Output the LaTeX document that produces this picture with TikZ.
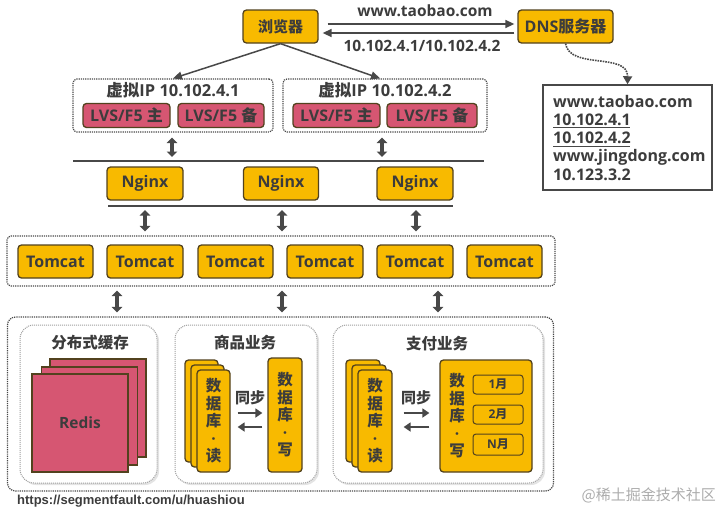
\documentclass[tikz,border=0pt]{standalone}
\usepackage{fontspec}
\setmainfont{Open Sans}
\newfontfamily\cjk{Noto Sans CJK SC}
\newfontfamily\arialf{Liberation Sans}
\newcommand\zh[1]{{\cjk #1}}
\usetikzlibrary{arrows.meta,calc,shadows}
\definecolor{ye}{RGB}{248,186,0}
\definecolor{bd}{RGB}{82,66,30}
\definecolor{pk}{RGB}{214,86,114}
\definecolor{tx}{RGB}{60,60,60}
\definecolor{ar}{RGB}{72,72,72}
\begin{document}
\begin{tikzpicture}[x=1pt,y=-1pt,
  font=\bfseries\fontsize{16}{18}\selectfont, text=tx,
  ybox/.style={draw=bd, fill=ye, line width=1.3pt, rounded corners=3.5pt, inner sep=0pt, text=tx},
  pbox/.style={draw=bd, fill=pk, line width=1.3pt, rounded corners=3.5pt, inner sep=0pt, text=tx, font=\bfseries\fontsize{16}{18}\selectfont},
  rbox/.style={draw=bd, fill=pk, line width=1.2pt, inner sep=0pt, minimum width=96pt, minimum height=98pt, text=tx},
  dotbox/.style={draw=ar, densely dotted, line width=1.2pt, inner sep=0pt, rounded corners=4pt},
  subbox/.style={draw=gray!75, densely dotted, line width=1pt, fill=white, rounded corners=14pt, inner sep=0pt,
    drop shadow={opacity=0.22, shadow xshift=2pt, shadow yshift=-2pt}},
  dbl/.style={draw=ar, line width=3.6pt, {Triangle[length=5.5pt,width=10.5pt]}-{Triangle[length=5.5pt,width=10.5pt]}},
  thinarr/.style={draw=ar, line width=1.5pt, -{Triangle[length=9pt,width=8pt]}},
  syncarr/.style={draw=ar, line width=2.6pt, -{Triangle[length=7pt,width=9pt]}},
  barline/.style={draw=ar, line width=1.6pt},
  vtext/.style={align=center, font=\bfseries\fontsize{15.5}{17.5}\selectfont},
  mbox/.style={draw=bd, fill=ye, line width=1pt, rounded corners=3pt, inner sep=0pt, minimum width=50pt, font=\bfseries\fontsize{12}{13}\selectfont},
  ltxt/.style={anchor=west, inner sep=0pt, font=\bfseries\fontsize{16}{18}\selectfont},
]
\useasboundingbox (0,0) rectangle (720,512);

% top
\node[ybox, minimum width=75pt, minimum height=33pt, font=\bfseries\fontsize{15}{17}\selectfont] (browser) at (280.5,26.5) {\zh{浏览器}};
\node[ybox, minimum width=95pt, minimum height=33pt] (dns) at (565.5,26.5) {DNS\zh{服务器}};
\draw[thinarr] ($(browser.east)+(9,-2.5)$) -- ($(dns.west)+(-3,-2.5)$);
\draw[thinarr] ($(dns.west)+(-3,6.5)$) -- ($(browser.east)+(4,6.5)$);
\node[font=\bfseries\fontsize{15.5}{17}\selectfont] (lab1) at (425,11) {www.taobao.com};
\node[font=\bfseries\fontsize{15.5}{17}\selectfont] (lab2) at (422,46) {10.102.4.1/10.102.4.2};

% DNS list
\node[draw=ar, line width=1.5pt, fill=white, minimum width=169pt, minimum height=105pt, inner sep=0pt] (list) at (627.5,137.5) {};
\node[ltxt] (l1) at (553,102) {www.taobao.com};
\node[ltxt] (l2) at (553,120) {10.102.4.1};
\node[ltxt] (l3) at (553,138) {10.102.4.2};
\node[ltxt] (l4) at (553,157) {www.jingdong.com};
\node[ltxt] (l5) at (553,175) {10.123.3.2};
\draw[draw=ar, line width=1pt] (553,127.5) -- (630,127.5);
\draw[draw=ar, line width=1pt] (553,146) -- (630,146);
\draw[draw=ar, densely dotted, line width=1.6pt, -{Triangle[length=8pt,width=9pt]}]
  (dns.south) .. controls (570,70) and (628,52) .. (list.north);

% VIP boxes
\node[dotbox, minimum width=200pt, minimum height=53pt] (vip1) at (173,105.5) {};
\node[dotbox, minimum width=204pt, minimum height=53pt] (vip2) at (385,105.5) {};
\node[font=\bfseries\fontsize{16.5}{18}\selectfont] (vt1) at (173,90) {\zh{虚拟}IP 10.102.4.1};
\node[font=\bfseries\fontsize{16.5}{18}\selectfont] (vt2) at (385,90) {\zh{虚拟}IP 10.102.4.2};
\node[pbox, minimum width=87pt, minimum height=24pt] (p1) at (126.5,115.5) {LVS/F5 \zh{主}};
\node[pbox, minimum width=86pt, minimum height=24pt] (p2) at (221,115.5) {LVS/F5 \zh{备}};
\node[pbox, minimum width=87pt, minimum height=24pt] (p3) at (336.5,115.5) {LVS/F5 \zh{主}};
\node[pbox, minimum width=90pt, minimum height=24pt] (p4) at (432,115.5) {LVS/F5 \zh{备}};
\draw[thinarr] (browser.south) -- (vip1.north);
\draw[thinarr] (browser.south) -- ($(vip2.north)+(-5,0)$);

% bar 1
\coordinate (b1l) at (73,161);
\coordinate (b1r) at (484,161);
\draw[barline] (b1l) -- (b1r);
\draw[dbl] ($(vip1.south)+(-1,5)$) -- ($(vip1.south |- b1l)+(-1,-4)$);
\draw[dbl] ($(vip2.south)+(-3,5)$) -- ($(vip2.south |- b1l)+(-3,-4)$);

% Nginx
\node[ybox, minimum width=76pt, minimum height=33pt] (ng1) at (145,183.5) {Nginx};
\node[ybox, minimum width=75pt, minimum height=33pt] (ng2) at (281,183.5) {Nginx};
\node[ybox, minimum width=76pt, minimum height=33pt] (ng3) at (415,183.5) {Nginx};
\coordinate (b2l) at (108,206);
\coordinate (b2r) at (453,206);
\draw[barline] (b2l) -- (b2r);

% Tomcat
\node[dotbox, minimum width=548pt, minimum height=50pt] (tc) at (281,261) {};
\node[ybox, minimum width=75pt, minimum height=33pt] (t1) at (55.5,261.5) {Tomcat};
\node[ybox, minimum width=76pt, minimum height=33pt] (t2) at (145,261.5) {Tomcat};
\node[ybox, minimum width=75pt, minimum height=33pt] (t3) at (235.5,261.5) {Tomcat};
\node[ybox, minimum width=76pt, minimum height=33pt] (t4) at (325,261.5) {Tomcat};
\node[ybox, minimum width=76pt, minimum height=33pt] (t5) at (415,261.5) {Tomcat};
\node[ybox, minimum width=75pt, minimum height=33pt] (t6) at (504.5,261.5) {Tomcat};

\draw[dbl] ($(ng1.south |- b2l)+(0,4)$) -- ($(ng1.south |- tc.north)+(0,-4)$);
\draw[dbl] ($(ng2.south |- b2l)+(1,4)$) -- ($(ng2.south |- tc.north)+(1,-4)$);
\draw[dbl] ($(ng3.south |- b2l)+(1,4)$) -- ($(ng3.south |- tc.north)+(1,-4)$);

% bottom group
\node[dotbox, rounded corners=8pt, minimum width=546pt, minimum height=174pt] (big) at (280.5,404) {};
\draw[dbl] ($(tc.south)+(-164,4)$) -- ($(big.north)+(-163.5,-4)$);
\draw[dbl] ($(tc.south)+(1,4)$) -- ($(big.north)+(1.5,-4)$);
\draw[dbl] ($(tc.south)+(157,4)$) -- ($(big.north)+(157.5,-4)$);

\node[subbox, minimum width=137pt, minimum height=158pt] (s1) at (88.5,404) {};
\node[subbox, minimum width=142pt, minimum height=158pt] (s2) at (246,404) {};
\node[subbox, minimum width=210pt, minimum height=158pt] (s3) at (438,404) {};
\node[font=\bfseries\fontsize{15.5}{17}\selectfont] (st1) at (90,343) {\zh{分布式缓存}};
\node[font=\bfseries\fontsize{15.5}{17}\selectfont] (st2) at (245,343) {\zh{商品业务}};
\node[font=\bfseries\fontsize{15.5}{17}\selectfont] (st3) at (437,344) {\zh{支付业务}};

% Redis
\node[rbox] (r3) at (98,408) {};
\node[rbox] (r2) at (89.5,416) {};
\node[rbox, font=\bfseries\fontsize{15.5}{17}\selectfont] (r1) at (80,423) {Redis};

% goods
\node[ybox, minimum width=33pt, minimum height=102pt] (gr3) at (201.5,411) {};
\node[ybox, minimum width=33pt, minimum height=102pt] (gr2) at (207.5,416) {};
\node[ybox, minimum width=33pt, minimum height=102pt, vtext] (gr1) at (213.5,421) {\zh{数}\\\zh{据}\\\zh{库}\\·\\\zh{读}};
\node[ybox, minimum width=34pt, minimum height=114pt, vtext] (gw) at (285,415) {\zh{数}\\\zh{据}\\\zh{库}\\·\\\zh{写}};
\node[font=\bfseries\fontsize{15}{17}\selectfont] (gs) at (250,398) {\zh{同步}};
\draw[syncarr] ($(gr1.east)+(7,-8)$) -- ($(gw.west |- gr1.east)+(-5,-8)$);
\draw[syncarr] ($(gw.west |- gr1.east)+(-5,6)$) -- ($(gr1.east)+(7,6)$);

% payment
\node[ybox, minimum width=34pt, minimum height=102pt] (pr3) at (363,411) {};
\node[ybox, minimum width=34pt, minimum height=102pt] (pr2) at (369,416) {};
\node[ybox, minimum width=34pt, minimum height=102pt, vtext] (pr1) at (375,421) {\zh{数}\\\zh{据}\\\zh{库}\\·\\\zh{读}};
\node[ybox, minimum width=92pt, minimum height=112pt] (pw) at (486,416) {};
\node[vtext] (pwt) at (457,416) {\zh{数}\\\zh{据}\\\zh{库}\\·\\\zh{写}};
\node[mbox, minimum height=19pt] (m1) at (498,384.5) {1\zh{月}};
\node[mbox, minimum height=19pt] (m2) at (498,414.5) {2\zh{月}};
\node[mbox, minimum height=21pt] (m3) at (498,444.5) {N\zh{月}};
\node[font=\bfseries\fontsize{15}{17}\selectfont] (ps) at (416,398) {\zh{同步}};
\draw[syncarr] ($(pr1.east)+(11,-8)$) -- ($(pw.west |- pr1.east)+(-10,-8)$);
\draw[syncarr] ($(pw.west |- pr1.east)+(-10,6)$) -- ($(pr1.east)+(11,6)$);

% footer
\node[anchor=west, inner sep=0pt, font=\arialf\bfseries\fontsize{13}{15}\selectfont] (url) at (17,501) {https://segmentfault.com/u/huashiou};
\node[anchor=east, inner sep=0pt, text=gray!65, font=\cjk\mdseries\fontsize{15}{17}\selectfont] (wm) at (716,495) {@稀土掘金技术社区};
\end{tikzpicture}
\end{document}
